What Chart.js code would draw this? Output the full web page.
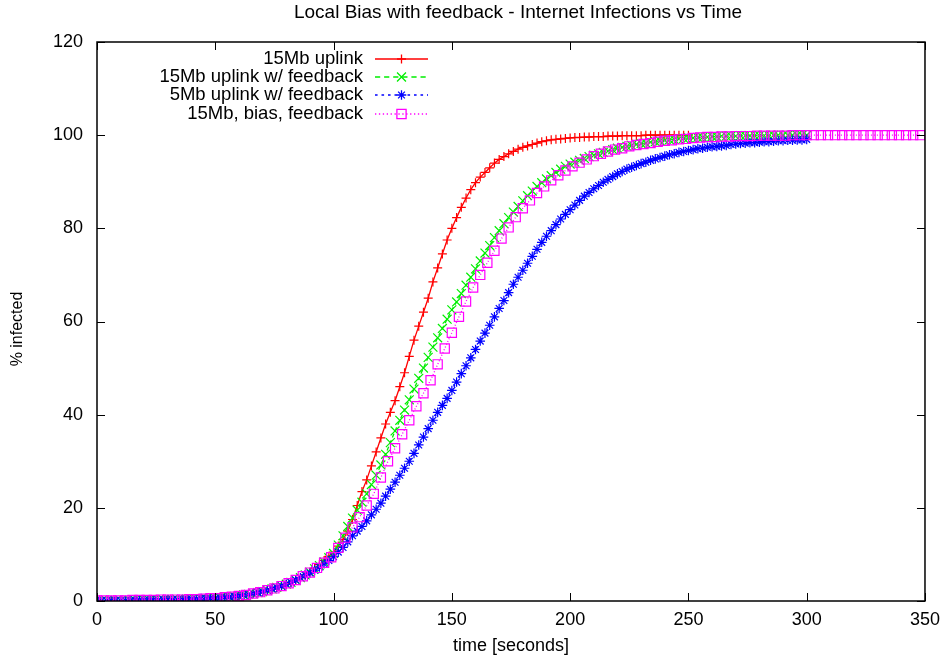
<!DOCTYPE html>
<html>
<head>
<meta charset="utf-8">
<title>Local Bias with feedback</title>
<script src="https://cdn.jsdelivr.net/npm/chart.js@4/dist/chart.umd.min.js"></script>
<style>
  body { margin: 0; background: #fff; }
  #chart { display: block; }
</style>
</head>
<body>
<canvas id="chart" width="948" height="662"></canvas>
<script>
// time samples (seconds)
const timeStep2 = [
  0,2,4,6,8,10,12,14,16,18, 20,22,24,26,28,30,32,34,36,38,
  40,42,44,46,48,50,52,54,56,58, 60,62,64,66,68,70,72,74,76,78,
  80,82,84,86,88,90,92,94,96,98, 100,102,104,106,108,110,112,114,116,118,
  120,122,124,126,128,130,132,134,136,138, 140,142,144,146,148,150,152,154,156,158,
  160,162,164,166,168,170,172,174,176,178, 180,182,184,186,188,190,192,194,196,198,
  200,202,204,206,208,210,212,214,216,218, 220,222,224,226,228,230,232,234,236,238,
  240,242,244,246,248,250,252,254,256,258, 260,262,264,266,268,270,272,274,276,278,
  280,282,284,286,288,290,292,294,296,298, 300
];
const timeStep3 = [
  0,3,6,9,12,15,18,21,24,27, 30,33,36,39,42,45,48,51,54,57,
  60,63,66,69,72,75,78,81,84,87, 90,93,96,99,102,105,108,111,114,117,
  120,123,126,129,132,135,138,141,144,147, 150,153,156,159,162,165,168,171,174,177,
  180,183,186,189,192,195,198,201,204,207, 210,213,216,219,222,225,228,231,234,237,
  240,243,246,249,252,255,258,261,264,267, 270,273,276,279,282,285,288,291,294,297,
  300,303,306,309,312,315,318,321,324,327, 330,333,336,339,342,345,348
];

// % infected
const uplink15 = [
  0.1,0.1,0.1,0.1,0.1,0.1,0.1,0.1,0.2,0.2,
  0.2,0.2,0.2,0.2,0.3,0.3,0.3,0.3,0.3,0.4,
  0.4,0.4,0.5,0.5,0.6,0.6,0.7,0.8,0.9,1.0,
  1.1,1.3,1.4,1.6,1.8,2.0,2.3,2.6,2.9,3.2,
  3.6,4.0,4.5,5.0,5.6,6.2,7.0,7.8,8.7,9.6,
  10.5,11.8,13.2,15,17.5,20.5,23.5,26,29,32,
  35,38,40.5,43,46,49,52.5,56,59,62,
  65,68.5,71.5,74.5,77.5,80,82.3,84.5,86.5,88.3,
  89.8,91,92,93,94,94.8,95.4,96,96.5,97,
  97.4,97.7,98,98.3,98.6,98.8,99,99.1,99.2,99.3,
  99.4,99.5,99.5,99.6,99.6,99.7,99.7,99.7,99.8,99.8,
  99.8,99.9,99.9,99.9,99.9,99.9,100,100,100,100,
  100,100,100,100,100,100
];
const uplink15Feedback = [
  0.1,0.1,0.1,0.1,0.1,0.1,0.1,0.1,0.2,0.2,
  0.2,0.2,0.2,0.2,0.3,0.3,0.3,0.3,0.3,0.4,
  0.4,0.4,0.5,0.5,0.6,0.6,0.7,0.8,0.9,1.0,
  1.1,1.3,1.4,1.6,1.8,2.0,2.3,2.6,2.9,3.2,
  3.6,4.0,4.5,5.0,5.6,6.2,6.9,7.6,8.4,9.3,
  10.2,12,14,16,17.8,19.5,21.2,23,25,27,
  29.2,31.5,34,36.5,38.8,41,43.2,45.5,47.8,50,
  52.3,54.5,56.5,58.5,60.5,62.5,64.2,66,67.8,69.5,
  71.3,73,74.7,76.3,78,79.5,81,82.3,83.5,84.7,
  85.9,87,88,89,89.8,90.6,91.3,92,92.7,93.3,
  93.8,94.2,94.6,95,95.4,95.7,96,96.3,96.6,96.9,
  97.2,97.4,97.6,97.8,98,98.2,98.3,98.5,98.6,98.8,
  98.9,99,99.1,99.2,99.3,99.4,99.4,99.5,99.5,99.6,
  99.7,99.7,99.8,99.8,99.8,99.8,99.9,99.9,99.9,99.9,
  99.9,99.9,99.9,100,100,100,100,100,100,100,
  100
];
const uplink5Feedback = [
  0.1,0.1,0.1,0.1,0.1,0.1,0.1,0.1,0.2,0.2,
  0.2,0.2,0.2,0.2,0.3,0.3,0.3,0.3,0.3,0.4,
  0.4,0.4,0.5,0.5,0.6,0.6,0.7,0.8,0.9,1.0,
  1.1,1.3,1.4,1.6,1.8,2.0,2.3,2.6,2.9,3.2,
  3.6,4.0,4.5,5.0,5.6,6.0,6.6,7.3,8.0,8.7,
  9.5,10.5,11.5,12.7,14,15,16,17.2,18.5,19.7,
  21,22.5,24,25.5,27,28.5,30,31.7,33.5,35.2,
  37,38.8,40.5,42,43.5,45.2,47,48.8,50.5,52.2,
  54,55.8,57.5,59.2,61,62.8,64.5,66.2,68,69.5,
  71,72.5,74,75.5,77,78.3,79.5,80.8,82,83,
  84,85,86,86.9,87.7,88.5,89.2,89.9,90.5,91.1,
  91.7,92.2,92.7,93.1,93.5,93.9,94.2,94.6,94.9,95.2,
  95.5,95.8,96,96.3,96.5,96.7,96.9,97.1,97.2,97.4,
  97.5,97.6,97.7,97.8,98,98.1,98.2,98.3,98.4,98.4,
  98.5,98.6,98.6,98.7,98.8,98.8,98.9,98.9,99,99,
  99.1
];
const biasFeedback = [
  0.1,0.1,0.1,0.1,0.1,0.2,0.2,0.2,0.2,0.3,
  0.3,0.3,0.3,0.4,0.4,0.5,0.6,0.6,0.8,0.9,
  1.1,1.3,1.6,1.9,2.3,2.7,3.2,3.8,4.5,5.3,
  6.1,7.1,8.2,9.4,11.4,13.6,15.8,18,20.5,23,
  26.5,30,32.8,35.8,38.8,41.8,44.6,47.4,50.8,54.2,
  57.6,61,64.3,67.3,70,72.6,75.2,77.8,80.2,82.4,
  84.3,86,87.6,89,90.3,91.4,92.4,93.3,94.1,94.8,
  95.5,96,96.5,96.9,97.2,97.6,97.9,98.1,98.3,98.6,
  98.8,98.9,99.1,99.2,99.4,99.5,99.6,99.6,99.7,99.7,
  99.8,99.8,99.8,99.9,99.9,99.9,99.9,99.9,100,100,
  100,100,100,100,100,100,100,100,100,100,
  100,100,100,100,100,100,100
];

const seriesLabels = ["15Mb uplink", "15Mb uplink w/ feedback", "5Mb uplink w/ feedback", "15Mb, bias, feedback"];
const xTicks = { min: 0, max: 350, step: 50 };
const yTicks = { min: 0, max: 120, step: 20 };

const FONT = "'Liberation Sans', Arial, Helvetica, sans-serif";

function pairs(times, values) {
  return values.map((v, i) => ({ x: times[i], y: v }));
}

const styles = [
  { color: "#ff0000", dash: [], point: "cross", r: 4.5 },
  { color: "#00ee00", dash: [4, 3], point: "crossRot", r: 6.3 },
  { color: "#0000ff", dash: [2, 3], point: "star", r: 4.8 },
  { color: "#ff00ff", dash: [1, 2], point: "rect", r: 6.5 }
];

const series = [
  pairs(timeStep2, uplink15),
  pairs(timeStep2, uplink15Feedback),
  pairs(timeStep2, uplink5Feedback),
  pairs(timeStep3, biasFeedback)
];

const datasets = series.map((data, i) => ({
  label: seriesLabels[i],
  data: data,
  order: 3 - i,
  borderColor: styles[i].color,
  borderWidth: 1.3,
  borderDash: styles[i].dash,
  pointStyle: styles[i].point,
  pointRadius: styles[i].r,
  pointBorderColor: styles[i].color,
  pointBackgroundColor: "rgba(0,0,0,0)",
  pointBorderWidth: 1.2,
  fill: false,
  tension: 0
}));

// legend glyph
function glyph(ctx, style, x, y) {
  const r = style.r;
  ctx.strokeStyle = style.color;
  ctx.lineWidth = 1.3;
  ctx.beginPath();
  if (style.point === "cross" || style.point === "star") {
    ctx.moveTo(x - r, y); ctx.lineTo(x + r, y);
    ctx.moveTo(x, y - r); ctx.lineTo(x, y + r);
  }
  if (style.point === "crossRot" || style.point === "star") {
    const d = r * Math.SQRT1_2;
    ctx.moveTo(x - d, y - d); ctx.lineTo(x + d, y + d);
    ctx.moveTo(x - d, y + d); ctx.lineTo(x + d, y - d);
  }
  if (style.point === "rect") {
    const s = r * Math.SQRT1_2;
    ctx.rect(x - s, y - s, 2 * s, 2 * s);
  }
  ctx.stroke();
}

const framePlugin = {
  id: "frame",
  afterDraw(chart) {
    const ctx = chart.ctx;
    const a = chart.chartArea;
    const xs = chart.scales.x, ys = chart.scales.y;
    ctx.save();
    ctx.strokeStyle = "#000";
    ctx.lineWidth = 1;
    ctx.setLineDash([]);
    ctx.beginPath();
    xs.ticks.forEach(t => {
      const px = Math.round(xs.getPixelForValue(t.value)) + 0.5;
      ctx.moveTo(px, a.bottom); ctx.lineTo(px, a.bottom - 8);
      ctx.moveTo(px, a.top); ctx.lineTo(px, a.top + 8);
    });
    ys.ticks.forEach(t => {
      const py = Math.round(ys.getPixelForValue(t.value)) + 0.5;
      ctx.moveTo(a.left, py); ctx.lineTo(a.left + 8, py);
      ctx.moveTo(a.right, py); ctx.lineTo(a.right - 8, py);
    });
    ctx.stroke();
    ctx.lineWidth = 1.5;
    ctx.strokeRect(a.left, a.top, a.right - a.left, a.bottom - a.top);

    // title
    ctx.fillStyle = "#000";
    ctx.font = "19px " + FONT;
    ctx.textAlign = "center";
    ctx.textBaseline = "middle";
    ctx.fillText("Local Bias with feedback - Internet Infections vs Time", 518, 13);

    // y axis title
    ctx.save();
    ctx.translate(18, 329);
    ctx.rotate(-Math.PI / 2);
    ctx.font = "16px " + FONT;
    ctx.fillText("% infected", 0, 0);
    ctx.restore();

    // legend
    ctx.font = "18.5px " + FONT;
    ctx.textAlign = "right";
    seriesLabels.forEach((label, i) => {
      const y = 59 + i * 18.2;
      const ly = Math.round(y);
      ctx.fillStyle = "#000";
      ctx.fillText(label, 363, y);
      ctx.strokeStyle = styles[i].color;
      ctx.lineWidth = 1.6;
      ctx.setLineDash(styles[i].dash.map(d => d * 1.3));
      ctx.beginPath();
      ctx.moveTo(375, ly); ctx.lineTo(428, ly);
      ctx.stroke();
      ctx.setLineDash([]);
      glyph(ctx, styles[i], 401.5, ly);
    });
    ctx.restore();
  }
};

new Chart(document.getElementById("chart"), {
  type: "line",
  data: { datasets },
  options: {
    responsive: false,
    animation: false,
    devicePixelRatio: 1,
    layout: { padding: { top: 42, right: 18, left: 0, bottom: 0 } },
    plugins: { legend: { display: false }, title: { display: false }, tooltip: { enabled: false } },
    scales: {
      x: {
        type: "linear",
        min: xTicks.min, max: xTicks.max,
        ticks: { stepSize: xTicks.step, padding: 8, color: "#000", font: { size: 18, family: FONT } },
        grid: { display: false, drawTicks: false },
        border: { display: false },
        title: { display: true, text: "time [seconds]", color: "#000", font: { size: 18, family: FONT }, padding: { top: 0, bottom: 5 } },
        afterFit(scale) { scale.height = 61; }
      },
      y: {
        type: "linear",
        min: yTicks.min, max: yTicks.max,
        ticks: { stepSize: yTicks.step, padding: 14, color: "#000", font: { size: 18, family: FONT } },
        grid: { display: false, drawTicks: false },
        border: { display: false },
        title: { display: false },
        afterFit(scale) { scale.width = 97; }
      }
    }
  },
  plugins: [framePlugin]
});
</script>
</body>
</html>
